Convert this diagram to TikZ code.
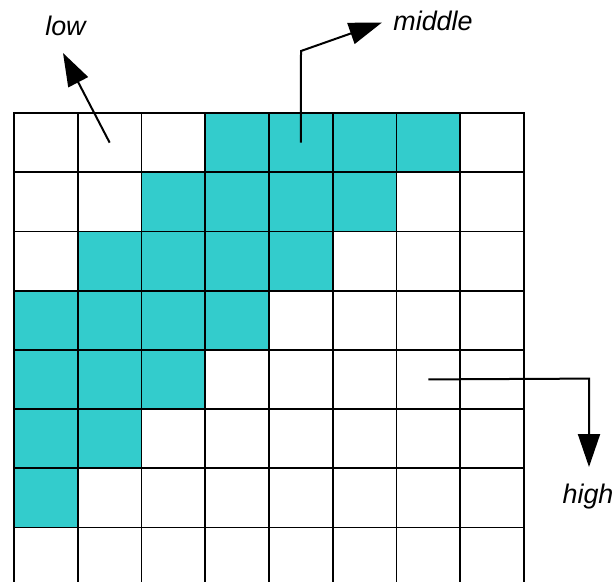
\documentclass[tikz,border=0pt]{standalone}
\usepackage{fontspec}
\setmainfont{Liberation Sans}
\usetikzlibrary{arrows.meta}
\definecolor{cellteal}{RGB}{51,204,204}
\tikzset{
  cell/.style={draw=black, line width=1.8bp, minimum width=63.75bp, minimum height=59.2bp, inner sep=0pt, outer sep=0pt},
  on/.style={fill=cellteal},
  lbl/.style={font=\fontsize{27}{30}\selectfont\itshape, inner sep=0pt, anchor=base},
  pointer/.style={draw=black, line width=2bp, -{Triangle[length=33bp,width=22bp]}}
}
\begin{document}
\begin{tikzpicture}[x=1bp,y=-1bp]
\useasboundingbox (0,0) rectangle (614,582);
\begin{scope}
\clip (0,0) rectangle (614,582);
\foreach \r in {0,...,7}{
  \foreach \c in {0,...,7}{
    \node[cell] (c-\r-\c) at ({14+63.75*\c+31.875},{113+59.2*\r+29.6}) {};
  }
}
\foreach \r/\c in {0/3,0/4,0/5,0/6,1/2,1/3,1/4,1/5,2/1,2/2,2/3,2/4,3/0,3/1,3/2,3/3,4/0,4/1,4/2,5/0,5/1,6/0}{
  \node[cell,on] at (c-\r-\c) {};
}
\end{scope}
\node[lbl] (low) at (65.5,36) {low};
\node[lbl] (middle) at (433,30.5) {middle};
\node[lbl] (high) at (588,503) {high};
\coordinate (lowtip) at (63,53);
\coordinate (midbend) at (301,51);
\coordinate (midtip) at (382,22.5);
\coordinate (highbend) at (589,378.6);
\coordinate (hightip) at (589,467);
\draw[pointer] (c-0-1.center) -- (lowtip);
\draw[pointer] (c-0-4.center) -- (midbend) -- (midtip);
\draw[pointer] (c-4-6.center) -- (highbend) -- (hightip);
\end{tikzpicture}
\end{document}
